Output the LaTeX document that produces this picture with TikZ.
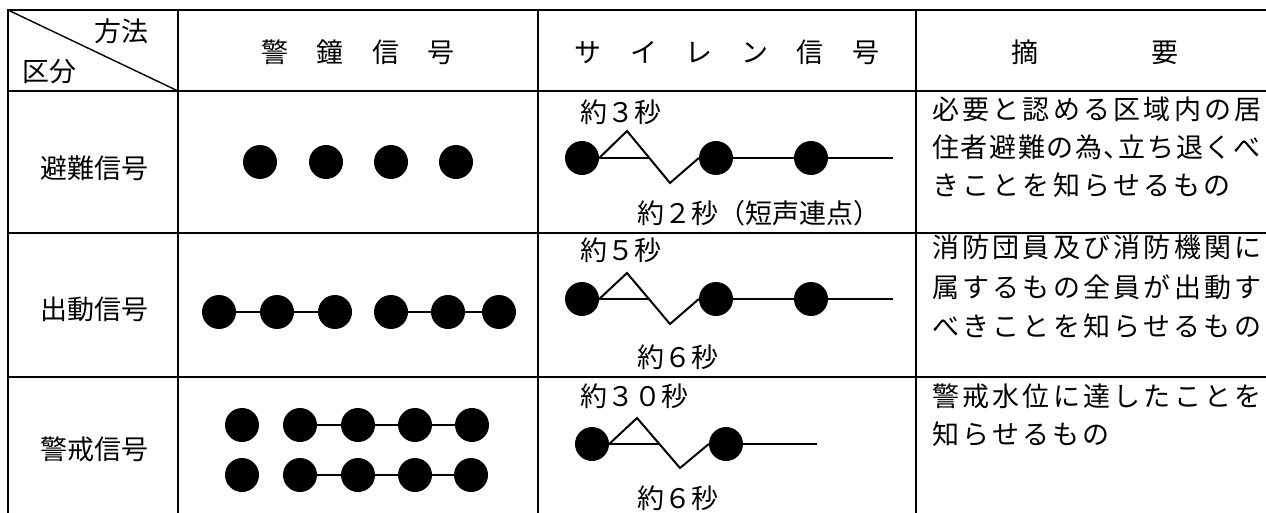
\documentclass[tikz,border=0pt]{standalone}
\usepackage{fontspec}
\newfontfamily\jp{Noto Sans CJK JP}
\newfontfamily\jphd{Noto Sans CJK JP}[LetterSpace=3]
\newfontfamily\jpsum{Noto Sans CJK JP}[LetterSpace=12]
\newfontfamily\jpsumb{Noto Sans CJK JP}[LetterSpace=6]
\tikzset{
  rule/.style={line width=2.6pt, line cap=rect},
  diag/.style={line width=1.4pt},
  link/.style={line width=2pt},
  dot/.style={circle, fill=black, draw=none, minimum size=34pt, inner sep=0pt},
  lbl/.style={inner sep=0pt, anchor=base, font=\jp\fontsize{27pt}{27pt}\selectfont},
  lbll/.style={inner sep=0pt, anchor=base west, font=\jp\fontsize{27pt}{27pt}\selectfont},
  hdr/.style={inner sep=0pt, anchor=base, font=\jphd\fontsize{27pt}{27pt}\selectfont},
  sumtxt/.style={inner sep=0pt, anchor=base west, font=\jpsum\fontsize{27pt}{27pt}\selectfont},
  sumtight/.style={inner sep=0pt, anchor=base west, font=\jpsumb\fontsize{27pt}{27pt}\selectfont},
}
\begin{document}
\begin{tikzpicture}[x=1pt,y=-1pt]
\useasboundingbox (0,0) rectangle (1266,513);
% table grid
\draw[rule] (8,10) -- (1270,10);
\draw[rule] (8,91) -- (1270,91);
\draw[rule] (8,233) -- (1270,233);
\draw[rule] (8,377) -- (1270,377);
\draw[rule] (8,10) -- (8,520);
\draw[rule] (178,10) -- (178,520);
\draw[rule] (538,10) -- (538,520);
\draw[rule] (916,10) -- (916,520);
\draw[diag] (8,10) -- (178,91);
% header
\node[lbl] (hm) at (121,42) {方法};
\node[lbl] (hk) at (50,82) {区分};
\node[hdr] (h2) at (358,63) {警　鐘　信　号};
\node[hdr] (h3) at (727,63) {サ　イ　レ　ン　信　号};
\node[hdr] (h4) at (1095,63) {摘　　　　要};
% row labels
\node[lbl] (l1) at (94,179) {避難信号};
\node[lbl] (l2) at (94,319) {出動信号};
\node[lbl] (l3) at (94,459) {警戒信号};
% bell row 1
\node[dot] (a1) at (260,162) {};
\node[dot] (a2) at (326,162) {};
\node[dot] (a3) at (391,162) {};
\node[dot] (a4) at (456,162) {};
% bell row 2
\node[dot] (b1) at (219,312) {};
\node[dot] (b2) at (277,312) {};
\node[dot] (b3) at (335,312) {};
\node[dot] (b4) at (391,312) {};
\node[dot] (b5) at (448,312) {};
\node[dot] (b6) at (499,312) {};
\draw[link] (b1) -- (b2) -- (b3);
\draw[link] (b4) -- (b5) -- (b6);
% bell row 3
\node[dot] (c1) at (242,425) {};
\node[dot] (c2) at (300,425) {};
\node[dot] (c3) at (358,425) {};
\node[dot] (c4) at (415,425) {};
\node[dot] (c5) at (472,425) {};
\draw[link] (c2) -- (c3) -- (c4) -- (c5);
\node[dot] (d1) at (242,475) {};
\node[dot] (d2) at (300,475) {};
\node[dot] (d3) at (358,475) {};
\node[dot] (d4) at (415,475) {};
\node[dot] (d5) at (471,475) {};
\draw[link] (d2) -- (d3) -- (d4) -- (d5);
% siren row 1
\node[lbll] (t11) at (580,123) {約３秒};
\node[dot] (s11) at (582,158) {};
\node[dot] (s12) at (716,158) {};
\node[dot] (s13) at (811,158) {};
\coordinate (p1) at (627,131);
\coordinate (v1) at (670,183);
\coordinate (x1) at (649,158);
\coordinate (e1) at (893,158);
\draw[link] (s11.east) -- (p1) -- (v1) -- (s12.west);
\draw[link] (s11.east) -- (x1);
\draw[link] (s12) -- (s13);
\draw[link] (s13) -- (e1);
\node[lbll] (t12) at (637,224) {約２秒（短声連点）};
% siren row 2
\node[lbll] (t21) at (580,260) {約５秒};
\node[dot] (s21) at (582,299) {};
\node[dot] (s22) at (716,299) {};
\node[dot] (s23) at (811,299) {};
\coordinate (p2) at (627,273);
\coordinate (v2) at (670,324);
\coordinate (x2) at (649,299);
\coordinate (e2) at (893,299);
\draw[link] (s21.east) -- (p2) -- (v2) -- (s22.west);
\draw[link] (s21.east) -- (x2);
\draw[link] (s22) -- (s23);
\draw[link] (s23) -- (e2);
\node[lbll] (t22) at (637,367) {約６秒};
% siren row 3
\node[lbll] (t31) at (580,406) {約３０秒};
\node[dot] (s31) at (592,444) {};
\node[dot] (s32) at (726,444) {};
\coordinate (p3) at (637,418);
\coordinate (v3) at (680,468);
\coordinate (x3) at (659,444);
\coordinate (e3) at (817,444);
\draw[link] (s31.east) -- (p3) -- (v3) -- (s32.west);
\draw[link] (s31.east) -- (x3);
\draw[link] (s32) -- (e3);
\node[lbll] (t32) at (637,508) {約６秒};
% summary column
\node[sumtxt] (m11) at (932,120) {必要と認める区域内の居};
\node[sumtight] (m12) at (932,158) {住者避難の為、\hspace{-12pt}立ち退くべ};
\node[sumtxt] (m13) at (932,196) {きことを知らせるもの};
\node[sumtxt] (m21) at (932,258) {消防団員及び消防機関に};
\node[sumtxt] (m22) at (932,297) {属するもの全員が出動す};
\node[sumtxt] (m23) at (932,336) {べきことを知らせるもの};
\node[sumtxt] (m31) at (932,406) {警戒水位に達したことを};
\node[sumtxt] (m32) at (932,444) {知らせるもの};
\end{tikzpicture}
\end{document}
